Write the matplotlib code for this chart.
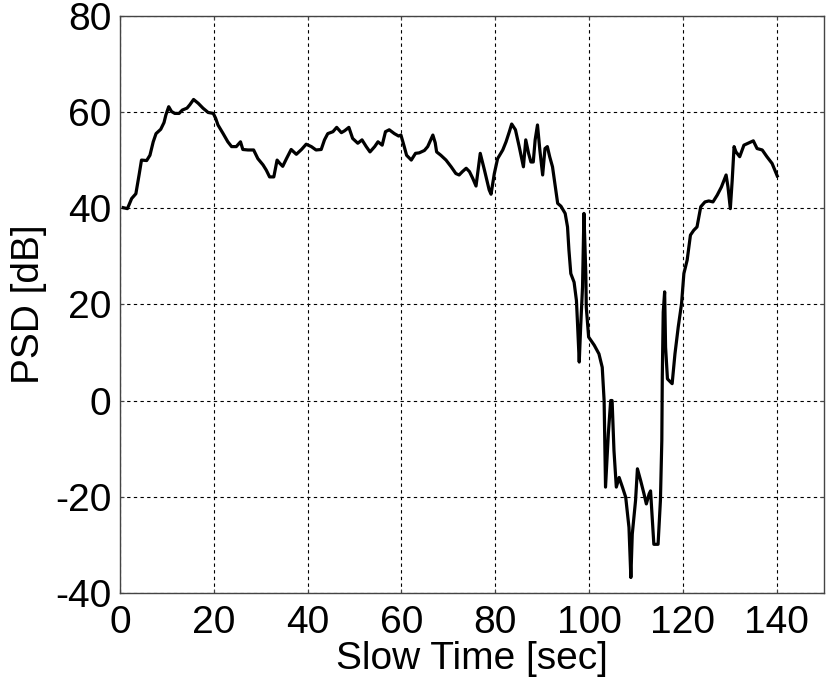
import numpy as np
from matplotlib import pyplot as plt

# values
t = [0.7, 1.6, 2.5, 3.4, 4.1, 4.6, 5.7, 6.4, 7.1, 7.7, 8.7, 9.4, 9.8, 10.4, 11.0,
     11.7, 12.6, 13.3, 14.3, 14.9, 15.7, 16.7, 17.7, 18.8, 19.9, 20.4, 20.9, 22.0,
     23.0, 23.8, 24.8, 25.7, 26.2, 27.3, 28.5, 29.4, 30.5, 31.2, 31.9, 32.8, 33.5,
     34.0, 34.7, 35.5, 36.5, 37.6, 38.7, 39.7, 40.8, 41.8, 42.9, 43.6, 44.3, 45.4,
     46.2, 47.2, 47.9, 48.8, 49.6, 50.7, 51.6, 52.5, 53.3, 54.3, 55.0, 55.9, 56.6,
     57.4, 58.5, 59.4, 59.9, 60.6, 61.1, 62.1, 63.0, 63.8, 64.9, 65.6, 66.7, 67.2,
     67.5, 68.4, 69.5, 70.6, 71.6, 72.3, 73.0, 73.8, 74.5, 75.2, 75.9, 76.8, 77.7,
     78.7, 79.1, 79.8, 80.5, 81.6, 82.3, 83.0, 83.5, 84.3, 85.1, 86.0, 86.5, 87.1,
     87.6, 88.1, 88.5, 89.0, 89.5, 90.1, 90.6, 91.1, 91.6, 92.2, 92.8, 93.3, 94.0,
     94.9, 95.4, 95.7, 96.1, 96.8, 97.3, 97.5, 97.9, 98.2, 98.6, 98.9, 99.3, 99.4,
     99.9, 101.1, 102.1, 102.8, 103.2, 103.5, 104.1, 104.6, 104.9, 105.3, 105.8,
     106.4, 107.1, 107.8, 108.5, 108.9, 109.2, 109.9, 110.3, 111.0, 111.7, 112.2,
     112.8, 113.1, 113.8, 114.7, 115.2, 115.5, 115.6, 115.8, 116.1, 116.3, 116.7,
     117.7, 118.3, 119.0, 119.7, 120.2, 120.9, 121.6, 122.3, 123.0, 123.8, 124.7,
     125.5, 126.4, 127.3, 128.2, 129.2, 129.6, 130.1, 130.5, 130.9, 131.3, 132.1,
     133.0, 133.9, 135.0, 135.8, 136.9, 137.9, 139.0, 140.1]
psd = [40.1, 39.9, 42.0, 43.0, 47.0, 50.0, 49.9, 51.0, 53.8, 55.5, 56.4, 57.8, 59.4,
       61.1, 60.1, 59.7, 59.7, 60.4, 60.8, 61.5, 62.6, 61.8, 60.8, 59.9, 59.7, 58.7,
       57.3, 55.5, 53.8, 52.8, 52.8, 53.8, 52.2, 52.1, 52.1, 50.3, 49.0, 47.9, 46.5,
       46.5, 50.0, 49.4, 48.7, 50.3, 52.2, 51.2, 52.2, 53.3, 52.8, 52.1, 52.2, 54.2,
       55.5, 55.9, 56.8, 55.7, 56.1, 56.8, 54.5, 53.5, 54.2, 52.8, 51.7, 52.8, 53.8,
       53.1, 55.9, 56.3, 55.5, 55.0, 55.2, 52.8, 51.0, 50.0, 51.4, 51.5, 52.0, 52.8,
       55.2, 53.6, 51.7, 51.0, 50.0, 48.6, 47.2, 46.9, 47.6, 48.3, 47.6, 46.2, 44.6,
       51.4, 47.9, 43.8, 42.9, 47.2, 50.3, 52.1, 53.8, 55.9, 57.5, 56.3, 52.8, 48.6,
       54.2, 51.4, 49.6, 49.6, 54.2, 57.3, 52.1, 46.9, 52.4, 52.8, 50.7, 48.6, 44.4,
       41.0, 40.4, 38.9, 36.1, 31.3, 26.4, 24.6, 20.8, 16.7, 8.0, 15.3, 23.6, 38.9,
       26.4, 19.4, 13.2, 11.5, 9.7, 6.9, 0.0, -18.0, -6.9, 0.0, 0.0, -10.4, -18.0,
       -16.0, -18.0, -20.1, -26.4, -36.8, -27.8, -20.8, -14.2, -16.7, -19.4, -21.5,
       -19.4, -18.8, -29.9, -29.9, -20.8, -8.3, 4.9, 18.4, 22.6, 11.1, 4.5, 3.5,
       9.7, 15.3, 20.1, 26.4, 29.2, 34.4, 35.4, 36.1, 40.3, 41.3, 41.5, 41.3, 42.7,
       44.4, 46.9, 44.4, 39.9, 45.8, 52.8, 51.7, 50.7, 53.1, 53.5, 54.0, 52.4, 52.1,
       50.7, 49.3, 46.7]

x_ticks = [0, 20, 40, 60, 80, 100, 120, 140]
y_ticks = [-40, -20, 0, 20, 40, 60, 80]

plt.rcParams['font.family'] = ['Liberation Sans', 'DejaVu Sans']
plt.rcParams['axes.unicode_minus'] = False

fig = plt.figure(figsize=(8.27, 6.87), dpi=100)
ax = fig.add_axes([0.145, 0.137, 0.851, 0.840])
ax.plot(t, psd, color='black', linewidth=2.3)

ax.set_xlim(0, 150)
ax.set_ylim(-40, 80)
ax.set_xticks(x_ticks)
ax.set_yticks(y_ticks)
ax.grid(True, color='black', linestyle=(0, (3, 3)), linewidth=0.8)
ax.tick_params(axis='both', labelsize=28, direction='in', length=3,
               top=True, right=True, color='#444444')
ax.tick_params(axis='x', pad=9)
ax.tick_params(axis='y', pad=6)
for s in ax.spines.values():
    s.set_linewidth(1.0)
    s.set_color('#444444')

ax.set_xlabel('Slow Time [sec]', fontsize=28, labelpad=0)
ax.set_ylabel('PSD [dB]', fontsize=28, labelpad=6)

plt.savefig('out.png', dpi=100)
